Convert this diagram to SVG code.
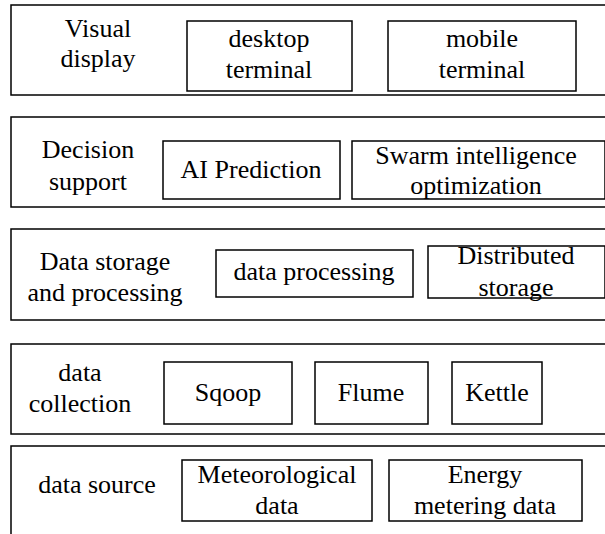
<svg xmlns="http://www.w3.org/2000/svg" width="605" height="534" viewBox="0 0 605 534">
<style>
.layer{fill:none;stroke:#000;stroke-width:1.5}
.box{fill:none;stroke:#000;stroke-width:1.5}
.t{font-family:'Liberation Serif','Times New Roman',serif;font-size:26px;fill:#000;text-anchor:middle}
</style>
<rect width="605" height="534" fill="#fff"/>
<g id="layer-visual"><rect class="layer" x="11" y="5" width="600" height="90"/><text class="t" x="98" y="37">Visual</text><text class="t" x="98" y="67">display</text></g>
<g id="layer-decision"><rect class="layer" x="11" y="117" width="600" height="90"/><text class="t" x="88" y="158">Decision</text><text class="t" x="88" y="190">support</text></g>
<g id="layer-storage"><rect class="layer" x="11" y="229" width="600" height="91"/><text class="t" x="105" y="270">Data storage</text><text class="t" x="105" y="301">and processing</text></g>
<g id="layer-collection"><rect class="layer" x="11" y="344" width="600" height="90"/><text class="t" x="80" y="381">data</text><text class="t" x="80" y="412">collection</text></g>
<g id="layer-source"><rect class="layer" x="11" y="446" width="600" height="100"/><text class="t" x="97" y="493">data source</text></g>
<g id="desktop"><rect class="box" x="187" y="21" width="165" height="70"/><text class="t" x="269" y="47">desktop</text><text class="t" x="269" y="78">terminal</text></g>
<g id="mobile"><rect class="box" x="388" y="21" width="188" height="70"/><text class="t" x="482" y="47">mobile</text><text class="t" x="482" y="78">terminal</text></g>
<g id="ai"><rect class="box" x="163" y="141" width="177" height="58"/><text class="t" x="251" y="178">AI Prediction</text></g>
<g id="swarm"><rect class="box" x="352" y="141" width="253" height="58"/><text class="t" x="476" y="164">Swarm intelligence</text><text class="t" x="476" y="194">optimization</text></g>
<g id="processing"><rect class="box" x="216" y="250" width="197" height="47"/><text class="t" x="314" y="280">data processing</text></g>
<g id="distributed"><rect class="box" x="428" y="246" width="177" height="52"/><text class="t" x="516" y="264">Distributed</text><text class="t" x="516" y="296">storage</text></g>
<g id="sqoop"><rect class="box" x="164" y="362" width="128" height="62"/><text class="t" x="228" y="401">Sqoop</text></g>
<g id="flume"><rect class="box" x="315" y="362" width="113" height="62"/><text class="t" x="371" y="401">Flume</text></g>
<g id="kettle"><rect class="box" x="452" y="362" width="90" height="62"/><text class="t" x="497" y="401">Kettle</text></g>
<g id="meteo"><rect class="box" x="182" y="460" width="190" height="61"/><text class="t" x="277" y="483">Meteorological</text><text class="t" x="277" y="514">data</text></g>
<g id="energy"><rect class="box" x="389" y="460" width="193" height="61"/><text class="t" x="485" y="483">Energy</text><text class="t" x="485" y="514">metering data</text></g>
<g id="connectors"></g>
</svg>
